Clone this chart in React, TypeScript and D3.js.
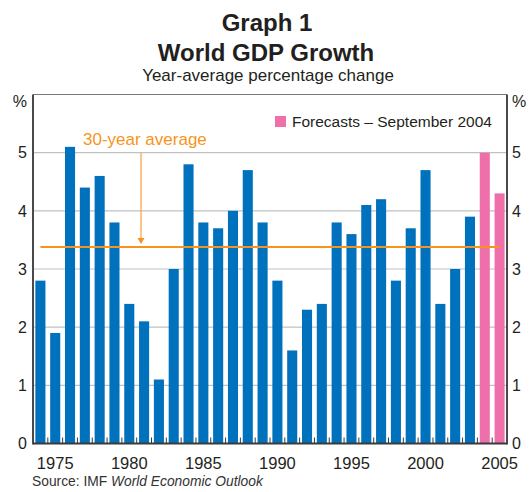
import React from "react";
import * as d3 from "d3";

// World GDP growth, year-average percentage change
const years: number[] = d3.range(1974, 2006);
const growth: number[] = [
  2.8, 1.9, 5.1, 4.4, 4.6, 3.8, 2.4, 2.1, 1.1, 3.0,
  4.8, 3.8, 3.7, 4.0, 4.7, 3.8, 2.8, 1.6, 2.3, 2.4,
  3.8, 3.6, 4.1, 4.2, 2.8, 3.7, 4.7, 2.4, 3.0, 3.9,
  5.0, 4.3,
];
const forecastYears: number[] = [2004, 2005];
const yTicks: number[] = [0, 1, 2, 3, 4, 5];
const yearLabels: number[] = [1975, 1980, 1985, 1990, 1995, 2000, 2005];

const W = 531;
const H = 492;
const FONT = "'Liberation Sans', Arial, Helvetica, sans-serif";
const TEXT = "#231f20";
const BLUE = "#0071bc";
const PINK = "#ef6fab";
const ORANGE = "#f7941d";
const ARROW = "#f9a74f";

export default function App() {
  const left = 33;
  const right = 507;
  const top = 94.5;
  const bottom = 443.5;

  const x = d3
    .scaleBand<number>()
    .domain(years)
    .range([left, right])
    .paddingInner(0.32)
    .paddingOuter(0.16);
  const y = d3.scaleLinear().domain([0, 6]).range([bottom, top]);

  const step = x.step();
  const bw = x.bandwidth();
  const center = (yr: number) => (x(yr) as number) + bw / 2;

  // 30-year average over the non-forecast years
  const actual = years
    .map((yr, i) => ({ yr, v: growth[i] }))
    .filter((d) => !forecastYears.includes(d.yr));
  const avg = d3.mean(actual, (d) => d.v) as number;

  const boundaries = years.slice(0, -1).map((yr) => (x(yr) as number) + bw + (step - bw) / 2);

  const arrowX = 141;
  const arrowTop = y(5);
  const arrowTip = y(avg) - 3;

  return (
    <svg
      width={W}
      height={H}
      style={{ position: "absolute", left: 0, top: 0, background: "#fff" }}
      fontFamily={FONT}
    >
      {/* titles */}
      <text x={267} y={31} textAnchor="middle" fontSize={24} fontWeight="bold" fill={TEXT}>
        Graph 1
      </text>
      <text x={266} y={60.5} textAnchor="middle" fontSize={24} fontWeight="bold" fill={TEXT}>
        World GDP Growth
      </text>
      <text x={268} y={81} textAnchor="middle" fontSize={17} fill={TEXT}>
        Year-average percentage change
      </text>

      {/* gridlines */}
      {yTicks
        .filter((t) => t > 0)
        .map((t) => (
          <line key={t} x1={left} x2={right} y1={y(t)} y2={y(t)} stroke="#bfc1c3" strokeWidth={1.2} />
        ))}

      {/* bars */}
      {years.map((yr, i) => (
        <rect
          key={yr}
          x={x(yr)}
          y={y(growth[i])}
          width={bw}
          height={y(0) - y(growth[i])}
          fill={forecastYears.includes(yr) ? PINK : BLUE}
        />
      ))}

      {/* average line */}
      <line
        x1={center(years[0])}
        x2={center(years[years.length - 1])}
        y1={y(avg)}
        y2={y(avg)}
        stroke={ORANGE}
        strokeWidth={2}
      />

      {/* annotation */}
      <text x={83} y={145} fontSize={17} fill={ORANGE}>
        30-year average
      </text>
      <line x1={arrowX} x2={arrowX} y1={arrowTop} y2={arrowTip - 5} stroke={ARROW} strokeWidth={1.3} />
      <path
        d={`M${arrowX - 3.5},${arrowTip - 6} L${arrowX + 3.5},${arrowTip - 6} L${arrowX},${arrowTip} Z`}
        fill={ORANGE}
      />

      {/* legend */}
      <rect x={275} y={116} width={11} height={11} fill={PINK} />
      <text x={292} y={127} fontSize={15.5} fill={TEXT}>
        Forecasts – September 2004
      </text>

      {/* frame */}
      <line x1={left} x2={right} y1={top} y2={top} stroke="#7a7a7a" strokeWidth={1} />
      <line x1={left} x2={left} y1={top} y2={bottom + 1} stroke="#4a4a4a" strokeWidth={2} />
      <line x1={right} x2={right} y1={top} y2={bottom + 1} stroke="#4a4a4a" strokeWidth={2} />
      <line x1={left} x2={right} y1={bottom} y2={bottom} stroke="#3a3a3a" strokeWidth={2} />
      {boundaries.map((bx, i) => (
        <line key={i} x1={bx} x2={bx} y1={bottom} y2={bottom - 6} stroke="#3a3a3a" strokeWidth={1} />
      ))}

      {/* y-axis labels, both sides */}
      {yTicks.map((t) => (
        <g key={t}>
          <text x={27} y={y(t)} dy="0.36em" textAnchor="end" fontSize={16} fill={TEXT}>
            {t}
          </text>
          <text x={512} y={y(t)} dy="0.36em" textAnchor="start" fontSize={16} fill={TEXT}>
            {t}
          </text>
        </g>
      ))}
      <text x={27} y={107} textAnchor="end" fontSize={16} fill={TEXT}>
        %
      </text>
      <text x={512} y={107} textAnchor="start" fontSize={16} fill={TEXT}>
        %
      </text>

      {/* x-axis labels */}
      {yearLabels.map((yr) => (
        <text key={yr} x={center(yr)} y={468.5} textAnchor="middle" fontSize={16.5} fill={TEXT}>
          {yr}
        </text>
      ))}

      {/* source */}
      <text x={32} y={486} fontSize={13.8} fill="#333">
        Source: IMF <tspan fontStyle="italic">World Economic Outlook</tspan>
      </text>
    </svg>
  );
}
